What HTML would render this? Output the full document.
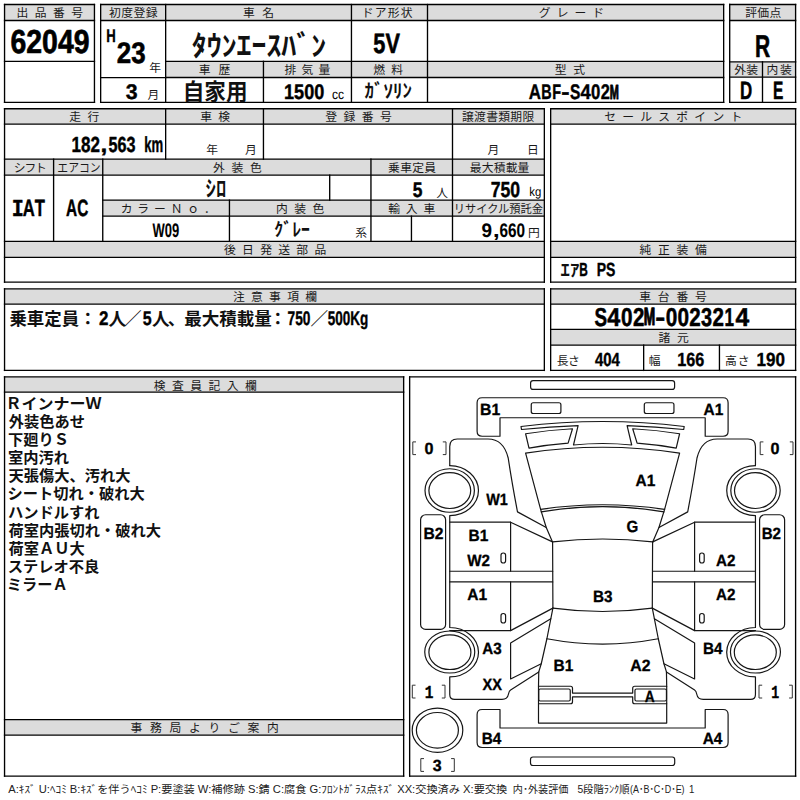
<!DOCTYPE html>
<html lang="ja">
<head>
<meta charset="utf-8">
<title>出品票 62049</title>
<style>
html,body{margin:0;padding:0;background:#fff}
body{width:800px;height:800px;position:relative;overflow:hidden;font-family:"Liberation Sans",sans-serif;color:#0a0a0a}
#sheet{position:absolute;left:0;top:0;width:800px;height:800px;background:#fff}
.bx{position:absolute;background:#fff}
.hd{position:absolute;background:#dcdcdc}
#txt{font-family:"Liberation Sans",sans-serif;font-kerning:none;text-rendering:geometricPrecision;fill:#000}
#txt .b{font-weight:bold}
#txt .r{font-weight:normal}
#txt .m{font-family:"Liberation Mono",monospace;font-weight:bold}
#txt .k{stroke:#000;stroke-linejoin:round}
svg{position:absolute;left:0;top:0;overflow:visible}
#sel{font-family:"Liberation Sans","Noto Sans CJK JP",sans-serif}
#sel .h{fill:#1a1a1a;font-weight:normal}
#sel .B{fill:#111;font-weight:bold}
#sel .f{fill:#222;font-weight:normal}
#grid line{stroke:#000;stroke-linecap:square;stroke-width:1.35}
#car{fill:none;stroke:#161616;stroke-width:1.2;stroke-linejoin:round;stroke-linecap:round}
</style>
</head>
<body>
<div id="sheet">
<div class="bx" style="left:4.55px;top:4.50px;width:89.90px;height:97.85px"></div>
<div class="bx" style="left:100.65px;top:4.50px;width:623.00px;height:97.85px"></div>
<div class="bx" style="left:729.70px;top:4.50px;width:65.90px;height:97.85px"></div>
<div class="bx" style="left:4.55px;top:108.70px;width:539.80px;height:173.45px"></div>
<div class="bx" style="left:550.65px;top:108.70px;width:244.95px;height:173.45px"></div>
<div class="bx" style="left:4.55px;top:288.85px;width:539.80px;height:81.55px"></div>
<div class="bx" style="left:550.65px;top:288.85px;width:244.95px;height:81.55px"></div>
<div class="bx" style="left:4.55px;top:376.85px;width:399.10px;height:399.30px"></div>
<div class="bx" style="left:409.65px;top:376.85px;width:385.95px;height:399.30px"></div>
<div class="hd" style="left:4.55px;top:4.50px;width:89.90px;height:16.00px"></div>
<div class="hd" style="left:100.65px;top:4.50px;width:623.00px;height:16.00px"></div>
<div class="hd" style="left:165.65px;top:61.35px;width:558.00px;height:16.15px"></div>
<div class="hd" style="left:729.70px;top:4.50px;width:65.90px;height:16.00px"></div>
<div class="hd" style="left:729.70px;top:61.80px;width:65.90px;height:15.30px"></div>
<div class="hd" style="left:4.55px;top:108.70px;width:539.80px;height:15.45px"></div>
<div class="hd" style="left:4.55px;top:159.15px;width:539.80px;height:16.00px"></div>
<div class="hd" style="left:102.75px;top:200.15px;width:441.60px;height:16.00px"></div>
<div class="hd" style="left:4.55px;top:241.35px;width:539.80px;height:16.00px"></div>
<div class="hd" style="left:550.65px;top:108.70px;width:244.95px;height:15.45px"></div>
<div class="hd" style="left:550.65px;top:241.35px;width:244.95px;height:16.00px"></div>
<div class="hd" style="left:4.55px;top:288.85px;width:539.80px;height:15.30px"></div>
<div class="hd" style="left:550.65px;top:288.85px;width:244.95px;height:15.30px"></div>
<div class="hd" style="left:550.65px;top:329.40px;width:244.95px;height:15.75px"></div>
<div class="hd" style="left:4.55px;top:376.85px;width:399.10px;height:15.25px"></div>
<div class="hd" style="left:4.55px;top:719.65px;width:399.10px;height:15.50px"></div>
<svg width="800" height="800" viewBox="0 0 800 800">
<g id="grid">
<line x1="4.55" y1="4.5" x2="94.45" y2="4.5"/>
<line x1="4.55" y1="102.35" x2="94.45" y2="102.35"/>
<line x1="4.55" y1="4.5" x2="4.55" y2="102.35"/>
<line x1="94.45" y1="4.5" x2="94.45" y2="102.35"/>
<line x1="4.55" y1="20.5" x2="94.45" y2="20.5"/>
<line x1="4.55" y1="61.35" x2="94.45" y2="61.35"/>
<line x1="100.65" y1="4.5" x2="723.65" y2="4.5"/>
<line x1="100.65" y1="102.35" x2="723.65" y2="102.35"/>
<line x1="100.65" y1="4.5" x2="100.65" y2="102.35"/>
<line x1="723.65" y1="4.5" x2="723.65" y2="102.35"/>
<line x1="100.65" y1="20.5" x2="723.65" y2="20.5"/>
<line x1="165.65" y1="4.5" x2="165.65" y2="102.35"/>
<line x1="351.45" y1="4.5" x2="351.45" y2="102.35"/>
<line x1="427.5" y1="4.5" x2="427.5" y2="102.35"/>
<line x1="263.45" y1="61.35" x2="263.45" y2="102.35"/>
<line x1="100.65" y1="77.6" x2="165.65" y2="77.6"/>
<line x1="165.65" y1="61.35" x2="723.65" y2="61.35"/>
<line x1="165.65" y1="77.5" x2="723.65" y2="77.5"/>
<line x1="729.7" y1="4.5" x2="795.6" y2="4.5"/>
<line x1="729.7" y1="102.35" x2="795.6" y2="102.35"/>
<line x1="729.7" y1="4.5" x2="729.7" y2="102.35"/>
<line x1="795.6" y1="4.5" x2="795.6" y2="102.35"/>
<line x1="729.7" y1="20.5" x2="795.6" y2="20.5"/>
<line x1="729.7" y1="61.8" x2="795.6" y2="61.8"/>
<line x1="729.7" y1="77.1" x2="795.6" y2="77.1"/>
<line x1="762.5" y1="61.8" x2="762.5" y2="102.35"/>
<line x1="4.55" y1="108.7" x2="544.35" y2="108.7"/>
<line x1="4.55" y1="282.15" x2="544.35" y2="282.15"/>
<line x1="4.55" y1="108.7" x2="4.55" y2="282.15"/>
<line x1="544.35" y1="108.7" x2="544.35" y2="282.15"/>
<line x1="4.55" y1="124.15" x2="544.35" y2="124.15"/>
<line x1="165.65" y1="108.7" x2="165.65" y2="159.15"/>
<line x1="263.45" y1="108.7" x2="263.45" y2="159.15"/>
<line x1="452.5" y1="108.7" x2="452.5" y2="241.35"/>
<line x1="4.55" y1="159.15" x2="544.35" y2="159.15"/>
<line x1="4.55" y1="175.15" x2="544.35" y2="175.15"/>
<line x1="53.6" y1="159.15" x2="53.6" y2="241.35"/>
<line x1="102.75" y1="159.15" x2="102.75" y2="241.35"/>
<line x1="370.95" y1="159.15" x2="370.95" y2="241.35"/>
<line x1="329.7" y1="175.15" x2="329.7" y2="200.15"/>
<line x1="102.75" y1="200.15" x2="544.35" y2="200.15"/>
<line x1="102.75" y1="216.15" x2="544.35" y2="216.15"/>
<line x1="229.45" y1="200.15" x2="229.45" y2="241.35"/>
<line x1="411.45" y1="216.15" x2="411.45" y2="241.35"/>
<line x1="4.55" y1="241.35" x2="544.35" y2="241.35"/>
<line x1="4.55" y1="257.35" x2="544.35" y2="257.35"/>
<line x1="550.65" y1="108.7" x2="795.6" y2="108.7"/>
<line x1="550.65" y1="282.15" x2="795.6" y2="282.15"/>
<line x1="550.65" y1="108.7" x2="550.65" y2="282.15"/>
<line x1="795.6" y1="108.7" x2="795.6" y2="282.15"/>
<line x1="550.65" y1="124.15" x2="795.6" y2="124.15"/>
<line x1="550.65" y1="241.35" x2="795.6" y2="241.35"/>
<line x1="550.65" y1="257.35" x2="795.6" y2="257.35"/>
<line x1="4.55" y1="288.85" x2="544.35" y2="288.85"/>
<line x1="4.55" y1="370.4" x2="544.35" y2="370.4"/>
<line x1="4.55" y1="288.85" x2="4.55" y2="370.4"/>
<line x1="544.35" y1="288.85" x2="544.35" y2="370.4"/>
<line x1="4.55" y1="304.15" x2="544.35" y2="304.15"/>
<line x1="550.65" y1="288.85" x2="795.6" y2="288.85"/>
<line x1="550.65" y1="370.4" x2="795.6" y2="370.4"/>
<line x1="550.65" y1="288.85" x2="550.65" y2="370.4"/>
<line x1="795.6" y1="288.85" x2="795.6" y2="370.4"/>
<line x1="550.65" y1="304.15" x2="795.6" y2="304.15"/>
<line x1="550.65" y1="329.4" x2="795.6" y2="329.4"/>
<line x1="550.65" y1="345.15" x2="795.6" y2="345.15"/>
<line x1="643.65" y1="345.15" x2="643.65" y2="370.4"/>
<line x1="719.45" y1="345.15" x2="719.45" y2="370.4"/>
<line x1="4.55" y1="376.85" x2="403.65" y2="376.85"/>
<line x1="4.55" y1="776.15" x2="403.65" y2="776.15"/>
<line x1="4.55" y1="376.85" x2="4.55" y2="776.15"/>
<line x1="403.65" y1="376.85" x2="403.65" y2="776.15"/>
<line x1="4.55" y1="392.1" x2="403.65" y2="392.1"/>
<line x1="4.55" y1="719.65" x2="403.65" y2="719.65"/>
<line x1="4.55" y1="735.15" x2="403.65" y2="735.15"/>
<line x1="409.65" y1="376.85" x2="795.6" y2="376.85"/>
<line x1="409.65" y1="776.15" x2="795.6" y2="776.15"/>
<line x1="409.65" y1="376.85" x2="409.65" y2="776.15"/>
<line x1="795.6" y1="376.85" x2="795.6" y2="776.15"/>
</g>
<g id="car">
<g id="carL">
<rect x="531.25" y="402.75" width="29.65" height="10.75" rx="2"/>
<path d="M525.6 433.75 Q549 430 572.5 428.75 L568.1 443.1 Q548.5 444.6 529 448.1 Z"/>
<path d="M449.75 465.6 V446.5 Q449.75 439 457.25 439 H488 C499 439 505.5 447 508.2 458 Q512 483 517.5 511.9 L546.25 527.5"/>
<path d="M540.6 509.4 L546.25 527.5 L552.5 541.9"/>
<path d="M552.6 541.9 L552.9 608.1"/>
<path d="M449.75 465.6 A28.75 25 0 0 1 449.75 515.6 V627.5 A28.75 24.7 0 0 1 449.75 676.9 V694.4 Q449.75 699.4 454.75 699.4 H502 Q507.5 699.4 508.5 694 Q509 691 510.6 690 L538.75 671.9"/>
<ellipse cx="449.7" cy="490.5" rx="24.7" ry="21.75"/>
<ellipse cx="449.8" cy="490.6" rx="20.9" ry="17.9"/>
<ellipse cx="449.75" cy="652" rx="25" ry="21"/>
<ellipse cx="449.9" cy="652.2" rx="21" ry="17.3"/>
<rect x="420.6" y="514.75" width="25" height="114.65" rx="5"/>
<path d="M449.75 522.2 H510.6 L552.5 541.9"/>
<path d="M510.6 522.2 V571.25 M510.6 581.9 V630.6"/>
<path d="M449.75 571.25 H552.7 M449.75 581.9 H552.7"/>
<path d="M449.75 630.6 H510.6 L552.9 608.1"/>
<rect x="501" y="553" width="4.6" height="10" rx="2.2"/>
<rect x="501" y="613.5" width="4.6" height="9.5" rx="2.2"/>
<path d="M552.9 608.1 L546.9 638.75 L541.25 663.75 L538.75 671.9 L538.5 686.25"/>
<path d="M550.8 618.75 L510.6 643.1 V679 L541.25 663.75"/>
<rect x="538.75" y="689" width="31.5" height="12" rx="1.5"/>
</g>
<use href="#carL" transform="translate(1205.2 0) scale(-1 1)"/>
<rect x="530.6" y="380.6" width="144" height="8.8" rx="2.5"/>
<rect x="530.5" y="757" width="144.2" height="8.5" rx="2.5"/>
<path d="M500 436.25 H482.1 Q477.1 436.25 477.1 431.25 V402.75 Q477.1 397.75 482.1 397.75 H723.1 Q728.1 397.75 728.1 402.75 V431.25 Q728.1 436.25 723.1 436.25 H705.2 V417.75 H500 Z"/>
<path d="M500 709.5 H482.1 Q477.1 709.5 477.1 714.5 V742.5 Q477.1 747.5 482.1 747.5 H723.1 Q728.1 747.5 728.1 742.5 V714.5 Q728.1 709.5 723.1 709.5 H705.2 V728 H500 Z"/>
<path d="M521 426.5 Q602.6 416.5 684.2 426.5 L683.7 429.5 Q655.4 426.5 627.1 425.6 L631.7 445 Q602.6 442 573.5 445 L578.1 425.6 Q549.8 426.5 521.5 429.5 Z"/>
<path d="M525.6 453.1 Q602.6 441.4 679.6 453.1 L664.6 509.4 Q602.6 500.1 540.6 509.4 Z"/>
<path d="M541.25 511.9 Q602.6 501.3 663.95 511.9"/>
<path d="M552.5 541.9 Q602.6 536.1 652.7 541.9"/>
<path d="M552.9 608.1 Q602.6 614.9 652.3 608.1"/>
<path d="M546.9 638.75 Q602.6 649.3 658.3 638.75"/>
<path d="M538.5 686.25 H570.5 Q572.5 686.25 572.5 688.3 V693.1 H632.7 V688.3 Q632.7 686.25 634.7 686.25 H666.7 V703.75 H634.7 Q632.7 703.75 632.7 701.7 V696.9 H572.5 V701.7 Q572.5 703.75 570.5 703.75 H538.5 Z"/>
<path d="M538.5 703.75 V723.1 H666.7 V703.75"/>
<ellipse cx="437.5" cy="730.2" rx="25.3" ry="22.1"/>
<ellipse cx="437.4" cy="730.3" rx="21" ry="17.8"/>
</g>
<path d="M416 441.9 H412.8 V454.6 H416 M442.8 441.9 H446 V454.6 H442.8 M763.4 441.9 H760.2 V454.6 H763.4 M789.8 441.9 H793 V454.6 H789.8 M415.5 685.2 H412.3 V698 H415.5 M441.8 685.2 H445 V698 H441.8 M762.2 685.2 H759 V698 H762.2 M789.1 685.2 H792.3 V698 H789.1 M424 758.6 H420.8 V771.4 H424 M451.1 758.6 H454.3 V771.4 H451.1" fill="none" stroke="#333" stroke-width="1"/>
<g id="txt">
<text class="b k" transform="translate(10.49 53) scale(0.8532 1)" font-size="33.31" stroke-width="0.67">62049</text>
<text class="b k" transform="translate(106.25 42) scale(0.7218 1)" font-size="18.23" stroke-width="0.36">H</text>
<text class="b k" transform="translate(116.86 63) scale(0.8692 1)" font-size="29.80" stroke-width="0.60">23</text>
<text class="b k" transform="translate(125.72 99) scale(1.0112 1)" font-size="21.04" stroke-width="0.42">3</text>
<text class="b k" transform="translate(373.30 53) scale(0.7763 1)" font-size="28.05" stroke-width="0.56">5V</text>
<text class="b k" transform="translate(284.04 99) scale(0.8605 1)" font-size="21.04" stroke-width="0.42">1500</text>
<text class="r" transform="translate(331.99 99) scale(0.8828 1)" font-size="13.69">cc</text>
<g><text class="b k" transform="translate(528.65 99) scale(0.8050 1)" font-size="21.04" stroke-width="0.42">A</text><text class="b k" transform="translate(541.19 99) scale(0.6792 1)" font-size="21.04" stroke-width="0.42">B</text><text class="b k" transform="translate(552.18 99) scale(0.6851 1)" font-size="21.04" stroke-width="0.42">F</text><text class="b k" transform="translate(561.28 99) scale(1.1801 1)" font-size="21.04" stroke-width="0.42">-</text><text class="b k" transform="translate(569.91 99) scale(0.7370 1)" font-size="21.04" stroke-width="0.42">S</text><text class="b k" transform="translate(580.40 99) scale(0.8811 1)" font-size="21.04" stroke-width="0.42">4</text><text class="b k" transform="translate(591.01 99) scale(0.7961 1)" font-size="21.04" stroke-width="0.42">0</text><text class="b k" transform="translate(600.80 99) scale(0.7773 1)" font-size="21.04" stroke-width="0.42">2</text><text class="b k" transform="translate(609.64 99) scale(0.5421 1)" font-size="20.19" stroke-width="1.01">M</text></g>
<text class="b k" transform="translate(755.06 57) scale(0.6655 1)" font-size="31.56" stroke-width="0.63">R</text>
<text class="b k" transform="translate(740.04 99) scale(0.6693 1)" font-size="25.25" stroke-width="0.50">D</text>
<text class="b k" transform="translate(773.12 99) scale(0.6136 1)" font-size="25.25" stroke-width="0.50">E</text>
<g><text class="b k" transform="translate(71.60 152) scale(0.7834 1)" font-size="21.74" stroke-width="0.43">182</text><text class="b k" transform="translate(100.58 152) scale(1.1284 1)" font-size="21.74" stroke-width="0.43">,</text><text class="b k" transform="translate(108.41 152) scale(0.7447 1)" font-size="21.74" stroke-width="0.43">563</text><text class="b k" transform="translate(144.21 152) scale(0.6037 1)" font-size="21.74" stroke-width="0.43"> km</text></g>
<g><text class="m k" transform="translate(11.76 216) scale(0.8215 1)" font-size="24.49" stroke-width="0.49">I</text><text class="b k" transform="translate(22.85 216) scale(0.7076 1)" font-size="23.49" stroke-width="0.47">AT</text></g>
<text class="b k" transform="translate(66.02 216) scale(0.6556 1)" font-size="23.49" stroke-width="0.47">AC</text>
<text class="b k" transform="translate(412.64 197) scale(0.8266 1)" font-size="21.04" stroke-width="0.42">5</text>
<text class="b k" transform="translate(490.67 197) scale(0.8099 1)" font-size="21.74" stroke-width="0.43">750</text>
<text class="r" transform="translate(529.23 196) scale(0.8952 1)" font-size="12.69">kg</text>
<text class="b k" transform="translate(152.52 237) scale(0.6587 1)" font-size="19.70" stroke-width="0.10">W09</text>
<g><text class="b k" transform="translate(481.39 237) scale(0.9595 1)" font-size="19.70" stroke-width="0.10">9</text><text class="b k" transform="translate(492.95 237) scale(1.2000 1)" font-size="19.70" stroke-width="0.10">,</text><text class="b k" transform="translate(499.48 237) scale(0.7794 1)" font-size="19.70" stroke-width="0.10">660</text></g>
<text class="b k" transform="translate(579.32 276) scale(0.6289 1)" font-size="18.93" stroke-width="0.38">B</text>
<text class="b k" transform="translate(596.70 276) scale(0.7406 1)" font-size="18.93" stroke-width="0.38">PS</text>
<g><text class="b k" transform="translate(594.54 326) scale(0.7283 1)" font-size="25.95" stroke-width="0.52">S</text><text class="b k" transform="translate(607.18 326) scale(0.9017 1)" font-size="25.95" stroke-width="0.52">4</text><text class="b k" transform="translate(621.09 326) scale(0.8010 1)" font-size="25.95" stroke-width="0.52">0</text><text class="b k" transform="translate(632.89 326) scale(0.7916 1)" font-size="25.95" stroke-width="0.52">2</text><text class="b k" transform="translate(643.82 325) scale(0.5521 1)" font-size="24.90" stroke-width="1.24">M</text><text class="b k" transform="translate(655.23 326) scale(1.1538 1)" font-size="25.95" stroke-width="0.52">-</text><text class="b k" transform="translate(665.69 326) scale(0.8010 1)" font-size="25.95" stroke-width="0.52">0</text><text class="b k" transform="translate(677.39 326) scale(0.8010 1)" font-size="25.95" stroke-width="0.52">0</text><text class="b k" transform="translate(689.19 326) scale(0.7916 1)" font-size="25.95" stroke-width="0.52">2</text><text class="b k" transform="translate(701.04 326) scale(0.7677 1)" font-size="25.95" stroke-width="0.52">3</text><text class="b k" transform="translate(712.49 326) scale(0.7916 1)" font-size="25.95" stroke-width="0.52">2</text><text class="b k" transform="translate(724.39 326) scale(0.6591 1)" font-size="25.95" stroke-width="0.52">1</text><text class="b k" transform="translate(735.57 326) scale(0.9503 1)" font-size="25.95" stroke-width="0.52">4</text></g>
<text class="b k" transform="translate(594.92 366) scale(0.7858 1)" font-size="19.07" stroke-width="0.38">404</text>
<text class="b k" transform="translate(677.14 366) scale(0.8494 1)" font-size="19.07" stroke-width="0.38">166</text>
<text class="b k" transform="translate(756.60 366) scale(0.8934 1)" font-size="19.07" stroke-width="0.38">190</text>
<text class="b k" transform="translate(99.08 325) scale(0.8633 1)" font-size="19.64" stroke-width="0.39">2</text>
<text class="b k" transform="translate(142.67 325) scale(0.8118 1)" font-size="19.64" stroke-width="0.39">5</text>
<text class="b k" transform="translate(287.55 325) scale(0.6983 1)" font-size="19.64" stroke-width="0.39">750</text>
<text class="b k" transform="translate(327.72 325) scale(0.6880 1)" font-size="19.64" stroke-width="0.39">500Kg</text>
<text class="b k" transform="translate(480.10 415) scale(0.9703 1)" font-size="16.27" stroke-width="0.33">B1</text>
<text class="b k" transform="translate(703.52 415) scale(0.9499 1)" font-size="16.27" stroke-width="0.33">A1</text>
<text class="b k" transform="translate(424.52 454) scale(0.9922 1)" font-size="16.27" stroke-width="0.33">0</text>
<text class="b k" transform="translate(770.52 454) scale(0.9922 1)" font-size="16.27" stroke-width="0.33">0</text>
<text class="b k" transform="translate(635.52 486) scale(0.9499 1)" font-size="16.27" stroke-width="0.33">A1</text>
<text class="b k" transform="translate(486.13 505) scale(0.8862 1)" font-size="16.27" stroke-width="0.33">W1</text>
<text class="b k" transform="translate(626.53 532) scale(0.9289 1)" font-size="16.27" stroke-width="0.33">G</text>
<text class="b k" transform="translate(423.51 539) scale(0.9596 1)" font-size="16.27" stroke-width="0.33">B2</text>
<text class="b k" transform="translate(761.64 539) scale(0.9286 1)" font-size="16.27" stroke-width="0.33">B2</text>
<text class="b k" transform="translate(468.52 541) scale(0.9499 1)" font-size="16.27" stroke-width="0.33">B1</text>
<text class="b k" transform="translate(467.14 566) scale(0.9309 1)" font-size="16.27" stroke-width="0.33">W2</text>
<text class="b k" transform="translate(716.02 566) scale(0.9344 1)" font-size="16.27" stroke-width="0.33">A2</text>
<text class="b k" transform="translate(716.02 600) scale(0.9344 1)" font-size="16.27" stroke-width="0.33">A2</text>
<text class="b k" transform="translate(467.27 600) scale(0.9573 1)" font-size="16.27" stroke-width="0.33">A1</text>
<text class="b k" transform="translate(592.88 602) scale(0.9385 1)" font-size="16.27" stroke-width="0.33">B3</text>
<text class="b k" transform="translate(482.27 654) scale(0.9315 1)" font-size="16.27" stroke-width="0.33">A3</text>
<text class="b k" transform="translate(702.88 654) scale(0.9400 1)" font-size="16.27" stroke-width="0.33">B4</text>
<text class="b k" transform="translate(553.52 671) scale(0.9499 1)" font-size="16.27" stroke-width="0.33">B1</text>
<text class="b k" transform="translate(630.26 671) scale(0.9718 1)" font-size="16.27" stroke-width="0.33">A2</text>
<text class="b k" transform="translate(482.52 690) scale(0.8969 1)" font-size="16.27" stroke-width="0.33">XX</text>
<text class="b k" transform="translate(644.80 702) scale(0.8452 1)" font-size="16.27" stroke-width="0.33">A</text>
<text class="m k" transform="translate(424.77 698) scale(0.7936 1)" font-size="18.27" stroke-width="0.37">1</text>
<text class="m k" transform="translate(771.24 698) scale(0.7239 1)" font-size="18.27" stroke-width="0.37">1</text>
<text class="b k" transform="translate(481.63 744) scale(0.9400 1)" font-size="16.27" stroke-width="0.33">B4</text>
<text class="b k" transform="translate(702.77 744) scale(0.9452 1)" font-size="16.27" stroke-width="0.33">A4</text>
<text class="b k" transform="translate(432.79 771) scale(0.9807 1)" font-size="16.27" stroke-width="0.33">3</text>
</g>
<g id="sel">
<text class="h" x="16.6" y="17.0" font-size="11.8" textLength="66.5">出品番号</text>
<text class="h" x="109.0" y="17.0" font-size="11.8" textLength="48.5">初度登録</text>
<text class="h" x="243.0" y="17.0" font-size="11.8" textLength="31.1">車名</text>
<text class="h" x="361.7" y="17.0" font-size="11.8" textLength="50.9">ドア形状</text>
<text class="h" x="538.8" y="17.0" font-size="11.8" textLength="65.3">グレード</text>
<text class="h" x="745.2" y="17.0" font-size="11.8" textLength="36.1">評価点</text>
<text class="h" x="198.7" y="74.4" font-size="11.8" textLength="31.5">車歴</text>
<text class="h" x="284.5" y="74.4" font-size="11.8" textLength="45.7">排気量</text>
<text class="h" x="373.3" y="73.8" font-size="11.8" textLength="29.7">燃料</text>
<text class="h" x="554.8" y="74.4" font-size="11.8" textLength="30.3">型式</text>
<text class="h" x="734.3" y="74.4" font-size="11.8" textLength="23.8">外装</text>
<text class="h" x="766.6" y="74.4" font-size="11.8" textLength="25.2">内装</text>
<text class="h" x="149.2" y="71.6" font-size="11.8" textLength="11.8">年</text>
<text class="h" x="147.6" y="98.6" font-size="11.8" textLength="11.8">月</text>
<text class="h" x="69.3" y="121.1" font-size="11.8" textLength="30.1">走行</text>
<text class="h" x="200.2" y="121.1" font-size="11.8" textLength="29.8">車検</text>
<text class="h" x="325.2" y="121.1" font-size="11.8" textLength="66.7">登録番号</text>
<text class="h" x="461.9" y="121.1" font-size="11.8" textLength="72.4">譲渡書類期限</text>
<text class="h" x="604.3" y="121.1" font-size="11.8" textLength="137.9">セールスポイント</text>
<text class="h" x="206.2" y="153.6" font-size="11.8" textLength="11.8">年</text>
<text class="h" x="245.1" y="153.6" font-size="11.8" textLength="11.8">月</text>
<text class="h" x="487.6" y="153.6" font-size="11.8" textLength="11.8">月</text>
<text class="h" x="526.9" y="153.6" font-size="11.8" textLength="11.8">日</text>
<text class="h" x="13.7" y="172.1" font-size="11.8" textLength="33.2">シフト</text>
<text class="h" x="57.3" y="172.1" font-size="11.8" textLength="43.4" lengthAdjust="spacingAndGlyphs">エアコン</text>
<text class="h" x="213.0" y="172.1" font-size="11.8" textLength="48.9">外装色</text>
<text class="h" x="388.1" y="172.1" font-size="11.8" textLength="47.9">乗車定員</text>
<text class="h" x="469.8" y="172.1" font-size="11.8" textLength="59.6">最大積載量</text>
<text class="h" x="436.2" y="196.6" font-size="11.8" textLength="11.8">人</text>
<text class="h" x="120.7" y="213.4" font-size="11.8" textLength="95.1">カラーＮｏ．</text>
<text class="h" x="276.1" y="213.4" font-size="11.8" textLength="48.3">内装色</text>
<text class="h" x="388.2" y="213.4" font-size="11.8" textLength="47.0">輸入車</text>
<text class="h" x="453.8" y="213.4" font-size="11.8" textLength="89.2" lengthAdjust="spacingAndGlyphs">リサイクル預託金</text>
<text class="h" x="355.3" y="236.6" font-size="11.8" textLength="11.8">系</text>
<text class="h" x="528.0" y="236.6" font-size="11.8" textLength="11.8">円</text>
<text class="h" x="224.0" y="254.1" font-size="11.8" textLength="102.2">後日発送部品</text>
<text class="h" x="639.5" y="254.1" font-size="11.8" textLength="67.4">純正装備</text>
<text class="h" x="232.9" y="301.4" font-size="11.8" textLength="84.2">注意事項欄</text>
<text class="h" x="639.2" y="301.4" font-size="11.8" textLength="67.7">車台番号</text>
<text class="h" x="658.4" y="341.7" font-size="11.8" textLength="30.3">諸元</text>
<text class="h" x="556.8" y="365.0" font-size="11.8" textLength="22.9">長さ</text>
<text class="h" x="648.7" y="365.0" font-size="11.8" textLength="11.8">幅</text>
<text class="h" x="724.9" y="365.0" font-size="11.8" textLength="24.6">高さ</text>
<text class="h" x="153.7" y="390.0" font-size="11.8" textLength="103.2">検査員記入欄</text>
<text class="h" x="130.4" y="731.7" font-size="11.8" textLength="148.5">事務局よりご案内</text>
<text class="B" x="191.8" y="55.5" font-size="28.0" textLength="134.3" lengthAdjust="spacingAndGlyphs">ﾀｳﾝｴｰｽﾊﾞﾝ</text>
<text class="B" x="182.7" y="100.0" font-size="23.0" textLength="64.8" lengthAdjust="spacingAndGlyphs">自家用</text>
<text class="B" x="364.6" y="98.2" font-size="19.0" textLength="47.4" lengthAdjust="spacingAndGlyphs">ｶﾞｿﾘﾝ</text>
<text class="B" x="205.6" y="196.3" font-size="22.0" textLength="20.7" lengthAdjust="spacingAndGlyphs">ｼﾛ</text>
<text class="B" x="274.3" y="236.4" font-size="18.5" textLength="35.7" lengthAdjust="spacingAndGlyphs">ｸﾞﾚｰ</text>
<text class="B" x="560.5" y="276.3" font-size="17.5" textLength="18.8" lengthAdjust="spacingAndGlyphs">ｴｱ</text>
<text class="B" x="9.4" y="324.8" font-size="17.6" textLength="69.8" lengthAdjust="spacingAndGlyphs">乗車定員</text>
<text class="B" x="78.9" y="324.8" font-size="17.6" textLength="17.6">：</text>
<text class="B" x="108.4" y="324.8" font-size="17.6" textLength="17.6">人</text>
<text class="B" x="123.9" y="324.8" font-size="17.6" textLength="17.6">／</text>
<text class="B" x="152.1" y="324.8" font-size="17.6" textLength="17.6">人</text>
<text class="B" x="167.8" y="324.8" font-size="17.6" textLength="17.6">、</text>
<text class="B" x="184.2" y="324.8" font-size="17.6" textLength="87.7" lengthAdjust="spacingAndGlyphs">最大積載量</text>
<text class="B" x="268.9" y="324.8" font-size="17.6" textLength="17.6">：</text>
<text class="B" x="310.4" y="324.8" font-size="17.6" textLength="17.6">／</text>
<text class="B" x="5.4" y="409.2" font-size="15.2" textLength="96.1" lengthAdjust="spacingAndGlyphs">ＲインナーＷ</text>
<text class="B" x="8.7" y="427.2" font-size="15.2" textLength="76.2" lengthAdjust="spacingAndGlyphs">外装色あせ</text>
<text class="B" x="8.1" y="445.3" font-size="15.2" textLength="61.0" lengthAdjust="spacingAndGlyphs">下廻りＳ</text>
<text class="B" x="8.0" y="463.4" font-size="15.2" textLength="61.0" lengthAdjust="spacingAndGlyphs">室内汚れ</text>
<text class="B" x="8.5" y="481.4" font-size="15.2" textLength="122.0" lengthAdjust="spacingAndGlyphs">天張傷大、汚れ大</text>
<text class="B" x="7.6" y="499.4" font-size="15.2" textLength="137.2" lengthAdjust="spacingAndGlyphs">シート切れ・破れ大</text>
<text class="B" x="8.1" y="517.5" font-size="15.2" textLength="91.5" lengthAdjust="spacingAndGlyphs">ハンドルすれ</text>
<text class="B" x="8.5" y="535.5" font-size="15.2" textLength="152.5" lengthAdjust="spacingAndGlyphs">荷室内張切れ・破れ大</text>
<text class="B" x="8.5" y="553.6" font-size="15.2" textLength="76.2" lengthAdjust="spacingAndGlyphs">荷室ＡＵ大</text>
<text class="B" x="7.7" y="571.6" font-size="15.2" textLength="91.5" lengthAdjust="spacingAndGlyphs">ステレオ不良</text>
<text class="B" x="6.8" y="589.7" font-size="15.2" textLength="61.0" lengthAdjust="spacingAndGlyphs">ミラーＡ</text>
<text class="f" x="8.3" y="793.0" font-size="10.7" textLength="498.9" lengthAdjust="spacingAndGlyphs">A:ｷｽﾞ U:ﾍｺﾐ B:ｷｽﾞを伴うﾍｺﾐ P:要塗装 W:補修跡 S:錆 C:腐食 G:ﾌﾛﾝﾄｶﾞﾗｽ点ｷｽﾞ XX:交換済み X:要交換</text>
<text class="f" x="512.8" y="793.0" font-size="10.7" textLength="55.7" lengthAdjust="spacingAndGlyphs">内･外装評価</text>
<text class="f" x="577.4" y="793.0" font-size="10.7" textLength="52.1" lengthAdjust="spacingAndGlyphs">5段階ﾗﾝｸ順</text>
<text class="f" x="630.1" y="793.0" font-size="10.7" textLength="54.5" lengthAdjust="spacingAndGlyphs">(A･B･C･D･E)</text>
<text class="f" x="689.1" y="793.0" font-size="10.7" textLength="5.4" lengthAdjust="spacingAndGlyphs">1</text>
</g>
</svg>
</div>
</body>
</html>
